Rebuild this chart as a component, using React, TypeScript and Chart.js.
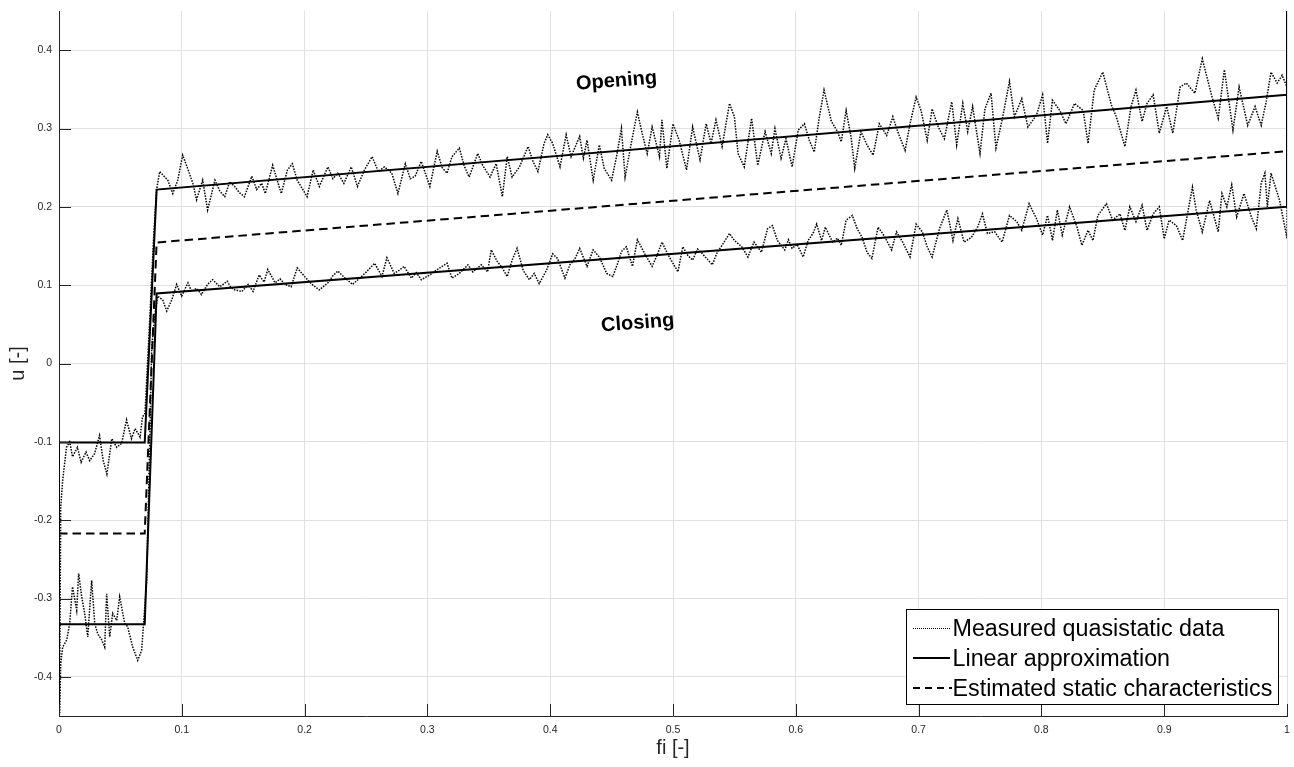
import React, { useEffect, useRef } from 'react';
import { Chart, registerables } from 'chart.js';

Chart.register(...registerables);

const FONT = '"Liberation Sans", Arial, Helvetica, sans-serif';
const AXIS_COLOR = '#262626';
const GRID_COLOR = '#e1e1e1';

// Axis ranges and tick positions
const X_MIN = 0;
const X_MAX = 1;
const Y_MIN = -0.45;
const Y_MAX = 0.45;
const xTicks = [0, 0.1, 0.2, 0.3, 0.4, 0.5, 0.6, 0.7, 0.8, 0.9, 1];
const yTicks = [-0.4, -0.3, -0.2, -0.1, 0, 0.1, 0.2, 0.3, 0.4];

// Measured quasistatic data, opening branch [fi, u]
const openingMeasured: [number, number][] = [
  [0, -0.45], [0.0006, -0.396], [0.0014, -0.183], [0.003, -0.149], [0.0061, -0.107], [0.0087, -0.1],
  [0.011, -0.119], [0.015, -0.107], [0.018, -0.126], [0.022, -0.113], [0.025, -0.124], [0.029, -0.115],
  [0.033, -0.092], [0.036, -0.124], [0.039, -0.141], [0.043, -0.096], [0.047, -0.107], [0.051, -0.102],
  [0.055, -0.072], [0.059, -0.096], [0.062, -0.083], [0.066, -0.094], [0.068, -0.068], [0.07, -0.064],
  [0.0714, -0.021], [0.074, 0.06], [0.077, 0.16], [0.0795, 0.222],
  [0.082, 0.245], [0.0886, 0.234], [0.0926, 0.217], [0.0967, 0.234], [0.1007, 0.266], [0.105, 0.248],
  [0.109, 0.23], [0.112, 0.209], [0.117, 0.234], [0.121, 0.196], [0.127, 0.234], [0.131, 0.22],
  [0.135, 0.213], [0.139, 0.232], [0.143, 0.226], [0.147, 0.218], [0.151, 0.213], [0.157, 0.239],
  [0.161, 0.222], [0.165, 0.23], [0.168, 0.217], [0.174, 0.253], [0.181, 0.217], [0.186, 0.247],
  [0.19, 0.255], [0.194, 0.234], [0.202, 0.213], [0.207, 0.247], [0.212, 0.226], [0.219, 0.251],
  [0.223, 0.236], [0.227, 0.243], [0.232, 0.23], [0.238, 0.251], [0.243, 0.226], [0.249, 0.248],
  [0.255, 0.264], [0.26, 0.245], [0.265, 0.251], [0.271, 0.243], [0.276, 0.217], [0.282, 0.255],
  [0.286, 0.236], [0.29, 0.239], [0.295, 0.258], [0.302, 0.226], [0.308, 0.271], [0.312, 0.25],
  [0.316, 0.243], [0.32, 0.264], [0.326, 0.275], [0.33, 0.252], [0.334, 0.238], [0.341, 0.268],
  [0.345, 0.253], [0.351, 0.238], [0.356, 0.255], [0.361, 0.213], [0.365, 0.264], [0.369, 0.238],
  [0.375, 0.251], [0.382, 0.277], [0.386, 0.258], [0.39, 0.245], [0.395, 0.281], [0.398, 0.292],
  [0.402, 0.281], [0.408, 0.251], [0.413, 0.292], [0.417, 0.264], [0.424, 0.29], [0.427, 0.262],
  [0.43, 0.285], [0.435, 0.234], [0.44, 0.279], [0.444, 0.249], [0.45, 0.234], [0.454, 0.264],
  [0.458, 0.3], [0.461, 0.238], [0.466, 0.281], [0.471, 0.321], [0.475, 0.293], [0.479, 0.268],
  [0.483, 0.302], [0.489, 0.264], [0.491, 0.311], [0.495, 0.249], [0.5, 0.306], [0.505, 0.285],
  [0.511, 0.247], [0.516, 0.302], [0.522, 0.26], [0.527, 0.306], [0.531, 0.281], [0.535, 0.311],
  [0.54, 0.277], [0.546, 0.332], [0.55, 0.315], [0.553, 0.268], [0.558, 0.251], [0.564, 0.313],
  [0.569, 0.253], [0.575, 0.296], [0.58, 0.268], [0.583, 0.3], [0.588, 0.262], [0.592, 0.287],
  [0.597, 0.251], [0.602, 0.298], [0.607, 0.306], [0.611, 0.285], [0.615, 0.27], [0.619, 0.313],
  [0.623, 0.349], [0.629, 0.309], [0.634, 0.296], [0.637, 0.283], [0.641, 0.323], [0.645, 0.289],
  [0.648, 0.249], [0.653, 0.296], [0.658, 0.279], [0.663, 0.266], [0.668, 0.306], [0.674, 0.291],
  [0.679, 0.315], [0.683, 0.296], [0.689, 0.272], [0.693, 0.306], [0.698, 0.34], [0.702, 0.323],
  [0.707, 0.285], [0.711, 0.325], [0.716, 0.302], [0.721, 0.287], [0.727, 0.334], [0.731, 0.279],
  [0.736, 0.332], [0.74, 0.296], [0.744, 0.328], [0.75, 0.268], [0.754, 0.325], [0.759, 0.345],
  [0.763, 0.275], [0.768, 0.311], [0.774, 0.36], [0.778, 0.315], [0.784, 0.338], [0.789, 0.302],
  [0.796, 0.317], [0.801, 0.343], [0.805, 0.281], [0.809, 0.336], [0.815, 0.323], [0.82, 0.306],
  [0.827, 0.332], [0.834, 0.323], [0.838, 0.281], [0.843, 0.349], [0.85, 0.372], [0.857, 0.33],
  [0.861, 0.315], [0.868, 0.277], [0.873, 0.328], [0.877, 0.349], [0.882, 0.309], [0.886, 0.332],
  [0.891, 0.343], [0.896, 0.294], [0.902, 0.328], [0.907, 0.294], [0.913, 0.353], [0.918, 0.358],
  [0.925, 0.345], [0.931, 0.389], [0.939, 0.34], [0.944, 0.313], [0.949, 0.375], [0.956, 0.298],
  [0.961, 0.353], [0.968, 0.304], [0.974, 0.328], [0.979, 0.304], [0.983, 0.334], [0.987, 0.372],
  [0.992, 0.358], [0.996, 0.368], [1, 0.353], [1, 0.16],
];

// Measured quasistatic data, closing branch [fi, u]
const closingMeasured: [number, number][] = [
  [0, -0.45], [0.0006, -0.447], [0.0014, -0.383], [0.003, -0.362], [0.0063, -0.353], [0.0087, -0.332],
  [0.011, -0.285], [0.0144, -0.315], [0.016, -0.268], [0.0185, -0.298], [0.0209, -0.319], [0.0234, -0.349],
  [0.0266, -0.277], [0.0291, -0.332], [0.0315, -0.345], [0.0348, -0.353], [0.0372, -0.362], [0.0388, -0.294],
  [0.0413, -0.349], [0.0437, -0.319], [0.047, -0.328], [0.0494, -0.298], [0.0535, -0.332], [0.0559, -0.336],
  [0.06, -0.362], [0.0641, -0.379], [0.0673, -0.366], [0.0714, -0.277], [0.0739, -0.1], [0.0755, 0.02],
  [0.0779, 0.06], [0.0803, 0.086],
  [0.0845, 0.081], [0.0877, 0.067], [0.0918, 0.081], [0.0958, 0.101], [0.0999, 0.086], [0.105, 0.103],
  [0.108, 0.092], [0.112, 0.096], [0.116, 0.088], [0.121, 0.101], [0.125, 0.107], [0.131, 0.098],
  [0.137, 0.105], [0.14, 0.097], [0.143, 0.094], [0.149, 0.092], [0.154, 0.101], [0.158, 0.092],
  [0.163, 0.113], [0.167, 0.104], [0.17, 0.12], [0.176, 0.103], [0.18, 0.108], [0.184, 0.101],
  [0.189, 0.098], [0.194, 0.122], [0.2, 0.111], [0.206, 0.101], [0.212, 0.094], [0.219, 0.103],
  [0.223, 0.112], [0.227, 0.118], [0.233, 0.109], [0.239, 0.101], [0.245, 0.109], [0.251, 0.118],
  [0.257, 0.128], [0.263, 0.111], [0.267, 0.135], [0.273, 0.115], [0.277, 0.119], [0.281, 0.124],
  [0.287, 0.109], [0.291, 0.116], [0.295, 0.107], [0.302, 0.113], [0.308, 0.12], [0.312, 0.124],
  [0.316, 0.128], [0.32, 0.109], [0.326, 0.115], [0.333, 0.126], [0.337, 0.117], [0.344, 0.126],
  [0.349, 0.117], [0.352, 0.145], [0.357, 0.13], [0.361, 0.122], [0.365, 0.111], [0.369, 0.132],
  [0.373, 0.147], [0.378, 0.119], [0.383, 0.107], [0.387, 0.115], [0.391, 0.102], [0.397, 0.119],
  [0.402, 0.14], [0.406, 0.134], [0.412, 0.109], [0.416, 0.126], [0.42, 0.133], [0.424, 0.147],
  [0.43, 0.124], [0.435, 0.145], [0.44, 0.136], [0.446, 0.115], [0.451, 0.111], [0.455, 0.128],
  [0.458, 0.143], [0.462, 0.149], [0.467, 0.124], [0.471, 0.158], [0.477, 0.14], [0.483, 0.124],
  [0.487, 0.138], [0.491, 0.155], [0.497, 0.136], [0.504, 0.117], [0.508, 0.149], [0.512, 0.138],
  [0.516, 0.132], [0.52, 0.146], [0.524, 0.14], [0.528, 0.133], [0.532, 0.126], [0.536, 0.142],
  [0.54, 0.151], [0.546, 0.166], [0.55, 0.157], [0.556, 0.149], [0.561, 0.136], [0.566, 0.155],
  [0.572, 0.142], [0.577, 0.172], [0.581, 0.176], [0.585, 0.157], [0.591, 0.145], [0.594, 0.158],
  [0.597, 0.147], [0.601, 0.152], [0.606, 0.136], [0.61, 0.157], [0.614, 0.166], [0.617, 0.178],
  [0.621, 0.157], [0.624, 0.174], [0.63, 0.155], [0.634, 0.16], [0.637, 0.151], [0.641, 0.183],
  [0.646, 0.189], [0.65, 0.172], [0.654, 0.161], [0.658, 0.142], [0.662, 0.134], [0.667, 0.174],
  [0.672, 0.163], [0.678, 0.145], [0.682, 0.168], [0.687, 0.155], [0.693, 0.136], [0.698, 0.178],
  [0.703, 0.168], [0.707, 0.149], [0.711, 0.136], [0.717, 0.172], [0.723, 0.196], [0.728, 0.157],
  [0.732, 0.185], [0.737, 0.155], [0.743, 0.161], [0.748, 0.174], [0.752, 0.191], [0.756, 0.166],
  [0.762, 0.168], [0.768, 0.155], [0.771, 0.172], [0.774, 0.189], [0.78, 0.181], [0.784, 0.17],
  [0.79, 0.204], [0.796, 0.185], [0.801, 0.164], [0.805, 0.189], [0.809, 0.157], [0.813, 0.196],
  [0.817, 0.164], [0.823, 0.2], [0.829, 0.174], [0.833, 0.151], [0.838, 0.17], [0.842, 0.157],
  [0.846, 0.189], [0.853, 0.204], [0.858, 0.183], [0.864, 0.191], [0.868, 0.17], [0.872, 0.2],
  [0.877, 0.181], [0.882, 0.202], [0.886, 0.17], [0.891, 0.191], [0.896, 0.2], [0.9, 0.159],
  [0.904, 0.183], [0.91, 0.176], [0.915, 0.157], [0.919, 0.191], [0.923, 0.225], [0.926, 0.196],
  [0.931, 0.168], [0.937, 0.208], [0.944, 0.168], [0.947, 0.217], [0.951, 0.2], [0.955, 0.228],
  [0.959, 0.187], [0.965, 0.217], [0.971, 0.187], [0.975, 0.172], [0.979, 0.23], [0.982, 0.243],
  [0.984, 0.2], [0.987, 0.243], [0.994, 0.208], [1, 0.16],
];

// Linear approximation of both branches (vertical ends run past the axis limits)
const linearOpening: [number, number][] = [
  [0, -0.46], [0, -0.101], [0.0698, -0.101], [0.0795, 0.222], [1, 0.343], [1, 0.46],
];
const linearClosing: [number, number][] = [
  [1, 0.46], [1, 0.2], [0.0795, 0.0894], [0.0698, -0.333], [0, -0.333], [0, -0.46],
];

// Estimated static characteristics
const staticCharacteristic: [number, number][] = [
  [0, -0.217], [0.0698, -0.217], [0.0795, 0.1545], [1, 0.271],
];

// Branch annotations [text, fi, u, rotation in degrees]
const branchLabels: [string, number, number, number][] = [
  ['Opening', 0.454, 0.3605, -4.5],
  ['Closing', 0.4713, 0.0515, -4.3],
];

const legendEntries: [string, 'dotted' | 'solid' | 'dashed'][] = [
  ['Measured quasistatic data', 'dotted'],
  ['Linear approximation', 'solid'],
  ['Estimated static characteristics', 'dashed'],
];

const toPoints = (a: [number, number][]) => a.map(([x, y]) => ({ x, y }));

const DOT = [1.5, 1.3];
const DASH = [8.5, 5];

export default function App() {
  const ref = useRef<HTMLCanvasElement>(null);

  useEffect(() => {
    const canvas = ref.current;
    if (!canvas) return;

    // Ticks pointing into the plot area, MATLAB style
    const inwardTicks = {
      id: 'inwardTicks',
      afterDraw(chart: any) {
        const { ctx, chartArea, scales } = chart;
        const len = 12;
        ctx.save();
        ctx.strokeStyle = AXIS_COLOR;
        ctx.lineWidth = 1;
        ctx.beginPath();
        xTicks.forEach((v) => {
          const px = Math.round(scales.x.getPixelForValue(v)) + 0.5;
          ctx.moveTo(px, chartArea.bottom);
          ctx.lineTo(px, chartArea.bottom - len);
        });
        yTicks.forEach((v) => {
          const py = Math.round(scales.y.getPixelForValue(v)) + 0.5;
          ctx.moveTo(chartArea.left, py);
          ctx.lineTo(chartArea.left + len, py);
        });
        ctx.stroke();
        ctx.restore();
      },
    };

    const branchText = {
      id: 'branchText',
      afterDatasetsDraw(chart: any) {
        const { ctx, scales } = chart;
        ctx.save();
        ctx.font = `bold 20px ${FONT}`;
        ctx.fillStyle = '#000';
        ctx.textAlign = 'center';
        ctx.textBaseline = 'middle';
        branchLabels.forEach(([text, fi, u, rot]) => {
          const px = scales.x.getPixelForValue(fi);
          const py = scales.y.getPixelForValue(u);
          ctx.save();
          ctx.translate(px, py);
          ctx.rotate((rot * Math.PI) / 180);
          ctx.fillText(text, 0, 0);
          ctx.restore();
        });
        ctx.restore();
      },
    };

    const legendBox = {
      id: 'legendBox',
      afterDraw(chart: any) {
        const { ctx, chartArea } = chart;
        const right = chartArea.right - 8.5;
        const bottom = chartArea.bottom - 11.5;
        const left = 906.5;
        const top = bottom - 95;
        ctx.save();
        ctx.fillStyle = '#fff';
        ctx.fillRect(left, top, right - left, bottom - top);
        ctx.strokeStyle = '#000';
        ctx.lineWidth = 1;
        ctx.setLineDash([]);
        ctx.strokeRect(left, top, right - left, bottom - top);
        ctx.font = `23.3px ${FONT}`;
        ctx.fillStyle = '#000';
        ctx.textAlign = 'left';
        ctx.textBaseline = 'alphabetic';
        const x0 = Math.round(left + 6);
        legendEntries.forEach(([text, style], i) => {
          const base = top + 26.5 + i * 30;
          const ly = Math.round(base - 8);
          ctx.beginPath();
          if (style === 'dotted') {
            ctx.lineWidth = 1;
            ctx.setLineDash([1, 1]);
            ctx.moveTo(x0, ly + 0.5);
            ctx.lineTo(x0 + 37, ly + 0.5);
          } else if (style === 'solid') {
            ctx.lineWidth = 2;
            ctx.setLineDash([]);
            ctx.moveTo(x0, ly);
            ctx.lineTo(x0 + 37, ly);
          } else {
            ctx.lineWidth = 2;
            ctx.setLineDash([7, 5]);
            ctx.moveTo(x0, ly);
            ctx.lineTo(x0 + 39, ly);
          }
          ctx.stroke();
          ctx.setLineDash([]);
          ctx.fillText(text, left + 46, base);
        });
        ctx.restore();
      },
    };

    const measuredStyle = {
      borderColor: '#000',
      borderWidth: 1.5,
      borderDash: DOT,
      pointRadius: 0,
    };

    const chart = new Chart(canvas, {
      type: 'line',
      data: {
        datasets: [
          {
            label: 'Linear approximation',
            data: toPoints(linearOpening),
            borderColor: '#000',
            borderWidth: 2,
            pointRadius: 0,
          },
          {
            label: 'Linear approximation (closing)',
            data: toPoints(linearClosing),
            borderColor: '#000',
            borderWidth: 2,
            pointRadius: 0,
          },
          {
            label: 'Estimated static characteristics',
            data: toPoints(staticCharacteristic),
            borderColor: '#000',
            borderWidth: 2,
            borderDash: DASH,
            pointRadius: 0,
          },
          {
            label: 'Measured quasistatic data',
            data: toPoints(openingMeasured),
            ...measuredStyle,
          },
          {
            label: 'Measured quasistatic data (closing)',
            data: toPoints(closingMeasured),
            ...measuredStyle,
          },
        ],
      },
      options: {
        animation: false,
        responsive: false,
        devicePixelRatio: 1,
        layout: { padding: { top: 11, right: 7, left: 0, bottom: 0 } },
        elements: { line: { tension: 0, fill: false } },
        plugins: {
          legend: { display: false },
          tooltip: { enabled: false },
        },
        scales: {
          x: {
            type: 'linear',
            min: X_MIN,
            max: X_MAX,
            afterBuildTicks: (s: any) => {
              s.ticks = xTicks.map((v) => ({ value: v }));
            },
            afterFit: (s: any) => {
              s.height = 51;
              s.paddingLeft = 0;
              s.paddingRight = 0;
            },
            grid: { color: GRID_COLOR, drawTicks: false },
            border: { display: true, color: AXIS_COLOR, width: 1 },
            ticks: {
              padding: 8,
              autoSkip: false,
              maxRotation: 0,
              color: AXIS_COLOR,
              font: { size: 10.5, family: FONT },
              callback: (v: any) => String(Number(Number(v).toFixed(1))),
            },
            title: {
              display: true,
              text: 'fi [-]',
              color: AXIS_COLOR,
              font: { size: 20, family: FONT },
              padding: { top: 0, bottom: 7 },
            },
          },
          y: {
            type: 'linear',
            min: Y_MIN,
            max: Y_MAX,
            afterBuildTicks: (s: any) => {
              s.ticks = yTicks.map((v) => ({ value: v }));
            },
            afterFit: (s: any) => {
              s.width = 59;
              s.paddingTop = 0;
              s.paddingBottom = 0;
            },
            grid: { color: GRID_COLOR, drawTicks: false },
            border: { display: true, color: AXIS_COLOR, width: 1 },
            ticks: {
              padding: 7,
              autoSkip: false,
              color: AXIS_COLOR,
              font: { size: 10.5, family: FONT },
              callback: (v: any) => String(Number(Number(v).toFixed(1))),
            },
            title: {
              display: true,
              text: 'u [-]',
              color: AXIS_COLOR,
              font: { size: 20, family: FONT },
              padding: { top: 6, bottom: 0 },
            },
          },
        },
      },
      plugins: [inwardTicks, branchText, legendBox],
    } as any);

    return () => chart.destroy();
  }, []);

  return (
    <canvas
      ref={ref}
      width={1294}
      height={767}
      style={{ position: 'absolute', left: 0, top: 0, display: 'block' }}
    />
  );
}
